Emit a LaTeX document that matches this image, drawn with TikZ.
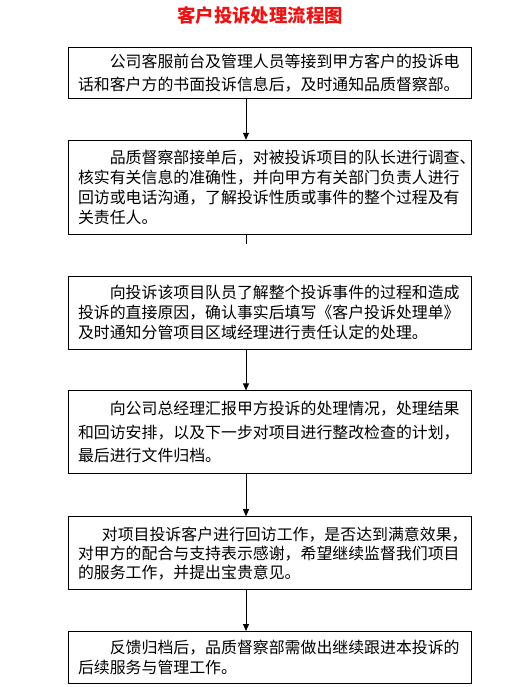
\documentclass[tikz,border=0pt]{standalone}
\usepackage{fontspec}
\newfontfamily\cjk{Noto Sans CJK SC}
\definecolor{titlered}{RGB}{235,20,20}
\usepackage{tikz}
\usetikzlibrary{
  arrows.meta,
  positioning,
  calc
}

\tikzset{
  stepbox/.style={draw, line width=0.8pt, text width=383pt, inner xsep=10pt,
    inner ysep=0pt, align=left, font=\cjk\fontsize{15.9}{20}\selectfont},
  boxlead/.style={font=\cjk\fontsize{15.9}{#1}\selectfont},
  flow/.style={line width=0.8pt, -{Triangle[length=7pt,width=6pt]}}
}

\begin{document}
\begin{tikzpicture}[x=1pt, y=1pt, node distance=41pt]

  \useasboundingbox (0,0) rectangle (530,-687);

  %% Title
  \node[font=\cjk\bfseries\fontsize{18.4}{20}\selectfont, text=titlered]
    (title) at (260,-15) {客户投诉处理流程图};

  %% Axis of the connectors
  \coordinate (axis) at (246,0);

  %% Steps
  \node[stepbox, boxlead=23, anchor=north, minimum height=51pt]
    (step1) at (269.5,-47)
    {\hspace*{2em}公司客服前台及管理人员等接到甲方客户的投诉电\\
     话和客户方的书面投诉信息后，及时通知品质督察部。};

  \node[stepbox, minimum height=94pt, below=of step1]
    (step2)
    {\hspace*{2em}品质督察部接单后，对被投诉项目的队长进行调查、\\
     核实有关信息的准确性，并向甲方有关部门负责人进行\\
     回访或电话沟通，了解投诉性质或事件的整个过程及有\\
     关责任人。};

  \node[stepbox, minimum height=73pt, below=of step2]
    (step3)
    {\hspace*{2em}向投诉该项目队员了解整个投诉事件的过程和造成\\
     投诉的直接原因，确认事实后填写《客户投诉处理单》\\
     及时通知分管项目区域经理进行责任认定的处理。};

  \node[stepbox, boxlead=23.5, minimum height=83pt, below=of step3]
    (step4)
    {\hspace*{2em}向公司总经理汇报甲方投诉的处理情况，处理结果\\
     和回访安排，以及下一步对项目进行整改检查的计划，\\
     最后进行文件归档。};

  \node[stepbox, boxlead=19, minimum height=73pt, below=42pt of step4]
    (step5)
    {\hspace*{1.5em}对项目投诉客户进行回访工作，是否达到满意效果，\\
     对甲方的配合与支持表示感谢，希望继续监督我们项目\\
     的服务工作，并提出宝贵意见。};

  \node[stepbox, minimum height=52pt, below=of step5]
    (step6)
    {\hspace*{2em}反馈归档后，品质督察部需做出继续跟进本投诉的\\
     后续服务与管理工作。};

  %% Connectors
  \draw[flow] (step1.south -| axis) -- (step2.north -| axis);
  \coordinate (stub) at ($(step2.south -| axis)+(0,-9)$);
  \draw[line width=0.8pt] (step2.south -| axis) -- (stub);
  \draw[flow] (step3.south -| axis) -- (step4.north -| axis);
  \draw[flow] (step4.south -| axis) -- (step5.north -| axis);
  \draw[flow] (step5.south -| axis) -- (step6.north -| axis);

\end{tikzpicture}
\end{document}
